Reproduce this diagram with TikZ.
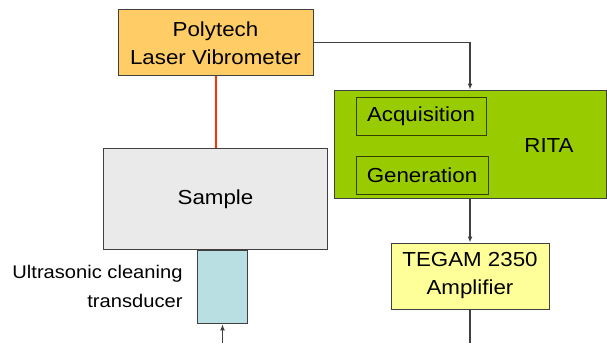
\documentclass[tikz,border=0pt]{standalone}
\usepackage{fontspec}
\setmainfont{Liberation Sans}[FakeStretch=1.1]
\usetikzlibrary{positioning,arrows.meta}
\definecolor{vibro}{HTML}{FFCC66}
\definecolor{sample}{HTML}{EAEAEA}
\definecolor{trans}{HTML}{B9DFE3}
\definecolor{rita}{HTML}{99CC00}
\definecolor{amp}{HTML}{FFFF99}
\definecolor{boxline}{HTML}{404040}
\definecolor{subline}{HTML}{334000}
\definecolor{laser}{HTML}{FF3300}
\begin{document}
\begin{tikzpicture}[x=1pt,y=-1pt,line width=1pt,font=\fontsize{20.3}{28}\selectfont,
	box/.style={rectangle,draw=boxline,inner sep=0pt,align=center},
	wire/.style={draw=boxline,line width=1.2pt},
	link/.style={wire,-{Latex[length=6pt,width=5pt]}}]
	\useasboundingbox (0,0) rectangle (607,343);
	\node[box,fill=vibro,minimum width=195pt,minimum height=66pt]	(V) at (215.5,42.8)	{Polytech\\Laser Vibrometer};
	\node[box,fill=sample,minimum width=224pt,minimum height=101pt]	(S) [below=72pt of V]	{Sample};
	\node[box,fill=trans,minimum width=50pt,minimum height=73pt,anchor=north]	(U) at ([xshift=7pt]S.south)	{};
	\node[align=right,anchor=east,inner sep=0pt,font=\fontsize{18.3}{29}\selectfont]	(L) at ([xshift=-14pt,yshift=1pt]U.west)	{Ultrasonic cleaning\\transducer};
	\node[box,fill=rita,minimum width=272pt,minimum height=108pt]	(R) at (470,144)	{};
	\node[box,fill=rita,draw=subline,minimum width=130pt,minimum height=38pt,anchor=north west]	(R1) at ([xshift=22pt,yshift=-7pt]R.north west)	{Acquisition};
	\node[box,fill=rita,draw=subline,minimum width=132pt,minimum height=38pt,anchor=north west]	(R2) at ([yshift=-20pt]R1.south west)	{Generation};
	\node[]	(RT) at (549,146)	{RITA};
	\node[box,fill=amp,minimum width=158pt,minimum height=66pt]	(A) [below=44pt of R]	{TEGAM 2350\\Amplifier};
	\coordinate (U0) at (U.south |- 0,343);
	\coordinate (A0) at (A.south |- 0,343);
	% connections
	\draw[draw=laser,line width=2pt] (V) -- (S);
	\draw[link] (V.east) -| (R.north);
	\draw[link] (R) -- (A);
	\draw[link] (U0) -- (U);
	\draw[wire] (A) -- (A0);
\end{tikzpicture}
\end{document}
